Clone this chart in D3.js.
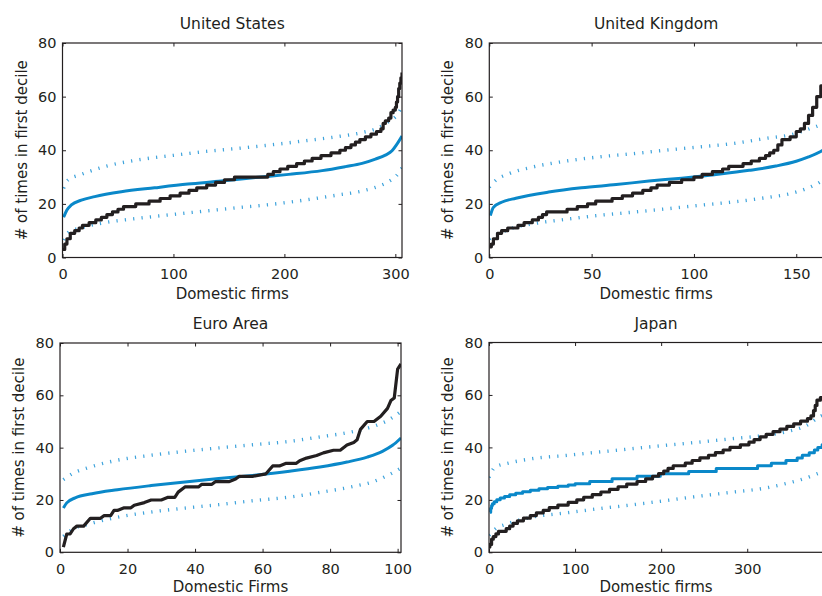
<!DOCTYPE html>
<html>
<head>
<meta charset="utf-8">
<script src="https://cdn.jsdelivr.net/npm/d3@7"></script>
<style>
  body { margin: 0; background: #fff; }
  svg { display: block; font-family: "DejaVu Sans", sans-serif; }
</style>
</head>
<body>
<div class="displayArea"></div>
<script>
// ---- data ----
const yTicks = [0, 20, 40, 60, 80];

// United States
const usTicks = [0, 100, 200, 300];
const usActX = [0, 2, 4, 7, 11, 15, 18, 24, 30, 35, 40, 45, 50, 55, 66, 78, 88, 97, 106, 114, 121, 130, 138, 146, 155, 185, 190, 196, 203, 211, 218, 225, 233, 242, 250, 255, 260, 264, 268, 273, 278, 283, 287, 289, 291, 294, 296, 298, 300, 301, 302, 303, 304, 305, 306];
const usActY = [3, 5, 7, 9, 10, 11, 12, 13, 14, 15, 16, 17, 18, 19, 20, 21, 22, 23, 24, 25, 26, 27, 28, 29, 30, 31, 32, 33, 34, 35, 36, 37, 38, 39, 40, 41, 42, 43, 44, 45, 46, 47, 48, 50, 51, 52, 54, 55, 56, 58, 60, 63, 65, 67, 69];
const usMedX = [1, 4, 8, 17, 29, 53, 83, 113, 143, 174, 204, 234, 255, 270, 282, 291, 297, 301, 306];
const usMedY = [15, 17.7, 19.6, 21.4, 22.7, 24.5, 26, 27.4, 28.5, 29.8, 31, 32.4, 33.9, 35.1, 36.7, 38.2, 39.8, 42, 45.3];
const usBandX = [1, 5, 17, 38, 68, 98, 128, 158, 188, 218, 248, 270, 285, 294, 301, 306];
const usHi = [25.8, 28.9, 31, 33.9, 36.4, 38, 39.5, 40.7, 42, 43.5, 45.1, 46.6, 48.4, 50.7, 52.9, 56.3];
const usLo = [6.5, 9.3, 11.1, 13, 14.6, 16, 17.3, 18.6, 19.8, 21.4, 23.3, 24.8, 26.6, 28.3, 30.5, 33.5];

// United Kingdom
const ukTicks = [0, 50, 100, 150];
const ukActX = [0, 1, 2, 4, 6, 9, 14, 17, 21, 24, 26, 28, 38, 43, 48, 52, 60, 65, 70, 75, 79, 82, 88, 94, 100, 104, 109, 114, 117, 124, 128, 132, 135, 137, 139, 141, 143, 147, 150, 152, 154, 156, 158, 160, 162, 164, 166];
const ukActY = [4, 5, 7, 9, 10, 11, 12, 13, 14, 15, 16, 17, 18, 19, 20, 21, 22, 23, 24, 25, 26, 27, 28, 29, 30, 31, 32, 33, 34, 35, 36, 37, 38, 39, 40, 42, 44, 45, 47, 48, 50, 53, 56, 60, 64, 67, 70];
const ukMedX = [0.5, 2, 6, 13, 29, 45, 62, 78, 94, 110, 127, 140, 150, 156, 163, 166];
const ukMedY = [15.6, 18.7, 20.6, 22.1, 24.4, 26, 27.2, 28.5, 29.6, 30.9, 32.5, 34.1, 35.9, 37.5, 40, 41.5];
const ukBandX = [0, 3, 9.5, 21, 37, 53.5, 70, 86, 102, 119, 135, 148, 156, 163, 166];
const ukHi = [26.2, 28.7, 31.2, 33.7, 35.9, 37.5, 38.7, 40, 41.2, 42.5, 44.4, 45.9, 47.9, 50, 51.5];
const ukLo = [7, 8.3, 10.5, 12.5, 14.2, 15.7, 16.9, 18.1, 19.4, 20.7, 22.3, 24, 26, 28.8, 30.5];

// Euro Area
const euTicks = [0, 20, 40, 60, 80, 100];
const euActX = [1, 2, 3, 4, 5, 7, 9, 12, 13, 15, 16, 17, 19, 21, 22, 25, 27, 30, 32, 34, 35, 37, 41, 42, 45, 46, 50, 52, 53, 57, 61, 63, 65, 67, 70, 71, 73, 76, 78, 81, 83, 85, 87, 88, 89, 91, 93, 95, 97, 98, 99, 100, 101];
const euActY = [2, 7, 7, 9, 10, 10, 13, 13, 14, 14, 16, 16, 17, 17, 18, 19, 20, 20, 21, 21, 23, 25, 25, 26, 26, 27, 27, 28, 29, 29, 30, 33, 33, 34, 34, 35, 36, 37, 38, 39, 39, 41, 42, 43, 47, 50, 50, 52, 55, 58, 59, 70, 72];
const euMedX = [1, 2, 4.5, 9.5, 17, 27, 37, 47, 57, 68, 77, 85, 91, 95.5, 98.5, 101];
const euMedY = [16.9, 18.9, 20.8, 22.4, 23.9, 25.5, 26.9, 28.2, 29.4, 31, 32.6, 34.5, 36.4, 38.6, 40.9, 43.7];
const euBandX = [1, 4, 8, 17, 27, 37, 47, 57, 68, 77, 87, 93, 97.5, 101];
const euHi = [27.8, 30.3, 32.2, 35.2, 37.1, 38.6, 39.9, 41.1, 42.4, 44.1, 46.2, 48.2, 50.7, 53.9];
const euLo = [6.1, 9, 10.6, 13.4, 15.4, 16.9, 18.2, 19.7, 21.1, 22.9, 25.2, 27.1, 29.7, 32.2];

// Japan
const jpTicks = [0, 100, 200, 300];
const jpActX = [0, 1, 3, 5, 8, 11, 20, 24, 28, 33, 40, 48, 55, 63, 70, 80, 92, 102, 110, 120, 130, 140, 150, 160, 172, 182, 190, 197, 203, 208, 214, 228, 236, 245, 255, 263, 272, 280, 292, 302, 308, 315, 322, 330, 338, 346, 354, 362, 370, 374, 377, 379, 381, 385, 395];
const jpActY = [2, 3, 5, 6, 7, 8, 9, 10, 11, 12, 13, 14, 15, 16, 17, 18, 19, 20, 21, 22, 23, 24, 25, 26, 27, 28, 29, 30, 31, 32, 33, 34, 35, 36, 37, 38, 39, 40, 41, 42, 43, 44, 45, 46, 47, 48, 49, 50, 51, 52, 54, 56, 58, 59, 59];
const jpMedX = [1, 2, 3, 4, 6, 9, 13, 18, 24, 31, 39, 48, 58, 68, 80, 92, 100, 117, 143, 172, 199, 232, 264, 312, 328, 345, 358, 364, 372, 378, 382, 387, 395];
const jpMedY = [15.3, 16.8, 17.8, 18.5, 19.3, 20, 20.7, 21.3, 21.9, 22.5, 23.1, 23.7, 24.2, 24.7, 25.2, 25.7, 26.1, 27, 28, 29, 30, 30.8, 32, 33, 34, 35, 36, 37, 38, 39, 40, 41, 41.5];
const jpBandX = [0, 7, 22.5, 50, 88.5, 127, 166, 205, 244, 282.5, 321, 348.5, 368, 387, 395];
const jpHi = [28.5, 32.5, 34, 35.7, 36.9, 38.2, 39.5, 40.8, 42, 43.3, 44.6, 46.2, 48.2, 52.2, 53];
const jpLo = [6.5, 8.8, 11, 13.4, 15, 16.6, 18.1, 19.7, 21.4, 22.9, 24.5, 26.5, 28.3, 30.6, 31.3];

// ---- layout ----
const width = 822, height = 596;
const textCol = "#231f20",
      blackCol = "#231f20",
      blueCol = "#0a88c9",
      dotCol = "#3ea3dc";

const zip = (xs, ys) => xs.map((x, i) => [x, ys[i]]);

const panels = [
  {title: "United States", xLabel: "Domestic firms", xMax: 306, ticks: usTicks,
   box: [62.5, 402, 43, 257.5], actual: zip(usActX, usActY), actStep: true,
   median: zip(usMedX, usMedY), medStep: false, hi: zip(usBandX, usHi), lo: zip(usBandX, usLo)},
  {title: "United Kingdom", xLabel: "Domestic firms", xMax: 166, ticks: ukTicks,
   box: [489.3, 829, 43, 257.5], actual: zip(ukActX, ukActY), actStep: true,
   median: zip(ukMedX, ukMedY), medStep: false, hi: zip(ukBandX, ukHi), lo: zip(ukBandX, ukLo)},
  {title: "Euro Area", xLabel: "Domestic Firms", xMax: 101, ticks: euTicks,
   box: [60, 401, 343, 552.3], actual: zip(euActX, euActY), actStep: false,
   median: zip(euMedX, euMedY), medStep: false, hi: zip(euBandX, euHi), lo: zip(euBandX, euLo)},
  {title: "Japan", xLabel: "Domestic firms", xMax: 395, ticks: jpTicks,
   box: [489, 829, 342.5, 552.3], actual: zip(jpActX, jpActY), actStep: true,
   median: zip(jpMedX, jpMedY), medStep: true, hi: zip(jpBandX, jpHi), lo: zip(jpBandX, jpLo)}
];

const svg = d3.select(".displayArea")
  .append("svg")
  .attr("width", width)
  .attr("height", height);

panels.forEach((p, k) => {
  const [left, right, top, bottom] = p.box;
  const xScale = d3.scaleLinear().domain([0, p.xMax]).range([left, right]),
        yScale = d3.scaleLinear().domain([0, 80]).range([bottom, top]);

  const g = svg.append("g");

  g.append("clipPath").attr("id", "clip" + k)
    .append("rect")
    .attr("x", left).attr("y", top)
    .attr("width", right - left).attr("height", bottom - top);

  const plot = g.append("g").attr("clip-path", `url(#clip${k})`);

  const smooth = d3.line()
    .x(d => xScale(d[0]))
    .y(d => yScale(d[1]))
    .curve(d3.curveMonotoneX);

  // confidence band (dotted)
  [p.hi, p.lo].forEach(band => {
    plot.append("path")
      .datum(band)
      .attr("fill", "none")
      .attr("stroke", dotCol)
      .attr("stroke-width", 3.4)
      .attr("stroke-dasharray", "1.2,7.2")
      .attr("d", smooth);
  });

  // median of simulations
  plot.append("path")
    .datum(p.median)
    .attr("fill", "none")
    .attr("stroke", blueCol)
    .attr("stroke-width", 3)
    .attr("stroke-linejoin", "round")
    .attr("d", d3.line()
      .x(d => xScale(d[0]))
      .y(d => yScale(d[1]))
      .curve(p.medStep ? d3.curveStepAfter : d3.curveMonotoneX));

  // actual counts
  plot.append("path")
    .datum(p.actual)
    .attr("fill", "none")
    .attr("stroke", blackCol)
    .attr("stroke-width", 3.2)
    .attr("stroke-linejoin", "round")
    .attr("d", d3.line()
      .x(d => xScale(d[0]))
      .y(d => yScale(d[1]))
      .curve(p.actStep ? d3.curveStepAfter : d3.curveLinear));

  // axes, ticks pointing inward on all four sides
  const tick = 3.5;
  g.append("g")
    .attr("transform", `translate(0,${bottom})`)
    .call(d3.axisBottom(xScale).tickValues(p.ticks).tickSizeInner(-tick).tickSizeOuter(0).tickPadding(11));
  g.append("g")
    .attr("transform", `translate(${left},0)`)
    .call(d3.axisLeft(yScale).tickValues(yTicks).tickSizeInner(-tick).tickSizeOuter(0).tickPadding(6));
  g.append("g")
    .attr("transform", `translate(0,${top})`)
    .call(d3.axisTop(xScale).tickValues(p.ticks).tickSizeInner(-tick).tickSizeOuter(0).tickFormat(""));
  g.append("g")
    .attr("transform", `translate(${right},0)`)
    .call(d3.axisRight(yScale).tickValues(yTicks).tickSizeInner(-tick).tickSizeOuter(0).tickFormat(""));

  g.selectAll(".domain").remove();
  g.selectAll(".tick line").attr("stroke", textCol).attr("stroke-width", 1);
  g.selectAll(".tick text")
    .attr("fill", textCol)
    .style("font-family", "DejaVu Sans")
    .style("font-size", "14.5px");

  g.append("rect")
    .attr("x", left).attr("y", top)
    .attr("width", right - left).attr("height", bottom - top)
    .attr("fill", "none")
    .attr("stroke", textCol)
    .attr("stroke-width", 1.2);

  // labels
  g.append("text")
    .attr("x", (left + right) / 2 + (k % 2 ? -3 : 0))
    .attr("y", top - 14)
    .attr("text-anchor", "middle")
    .attr("fill", textCol)
    .style("font-size", "15.5px")
    .text(p.title);

  g.append("text")
    .attr("x", (left + right) / 2 + (k % 2 ? -3 : 0))
    .attr("y", Math.min(bottom + 41.5, height - 4))
    .attr("text-anchor", "middle")
    .attr("fill", textCol)
    .style("font-size", "15px")
    .text(p.xLabel);

  g.append("text")
    .attr("transform", `translate(${left - 36},${(top + bottom) / 2}) rotate(-90)`)
    .attr("text-anchor", "middle")
    .attr("fill", textCol)
    .style("font-size", "15px")
    .text("# of times in first decile");
});
</script>
</body>
</html>
